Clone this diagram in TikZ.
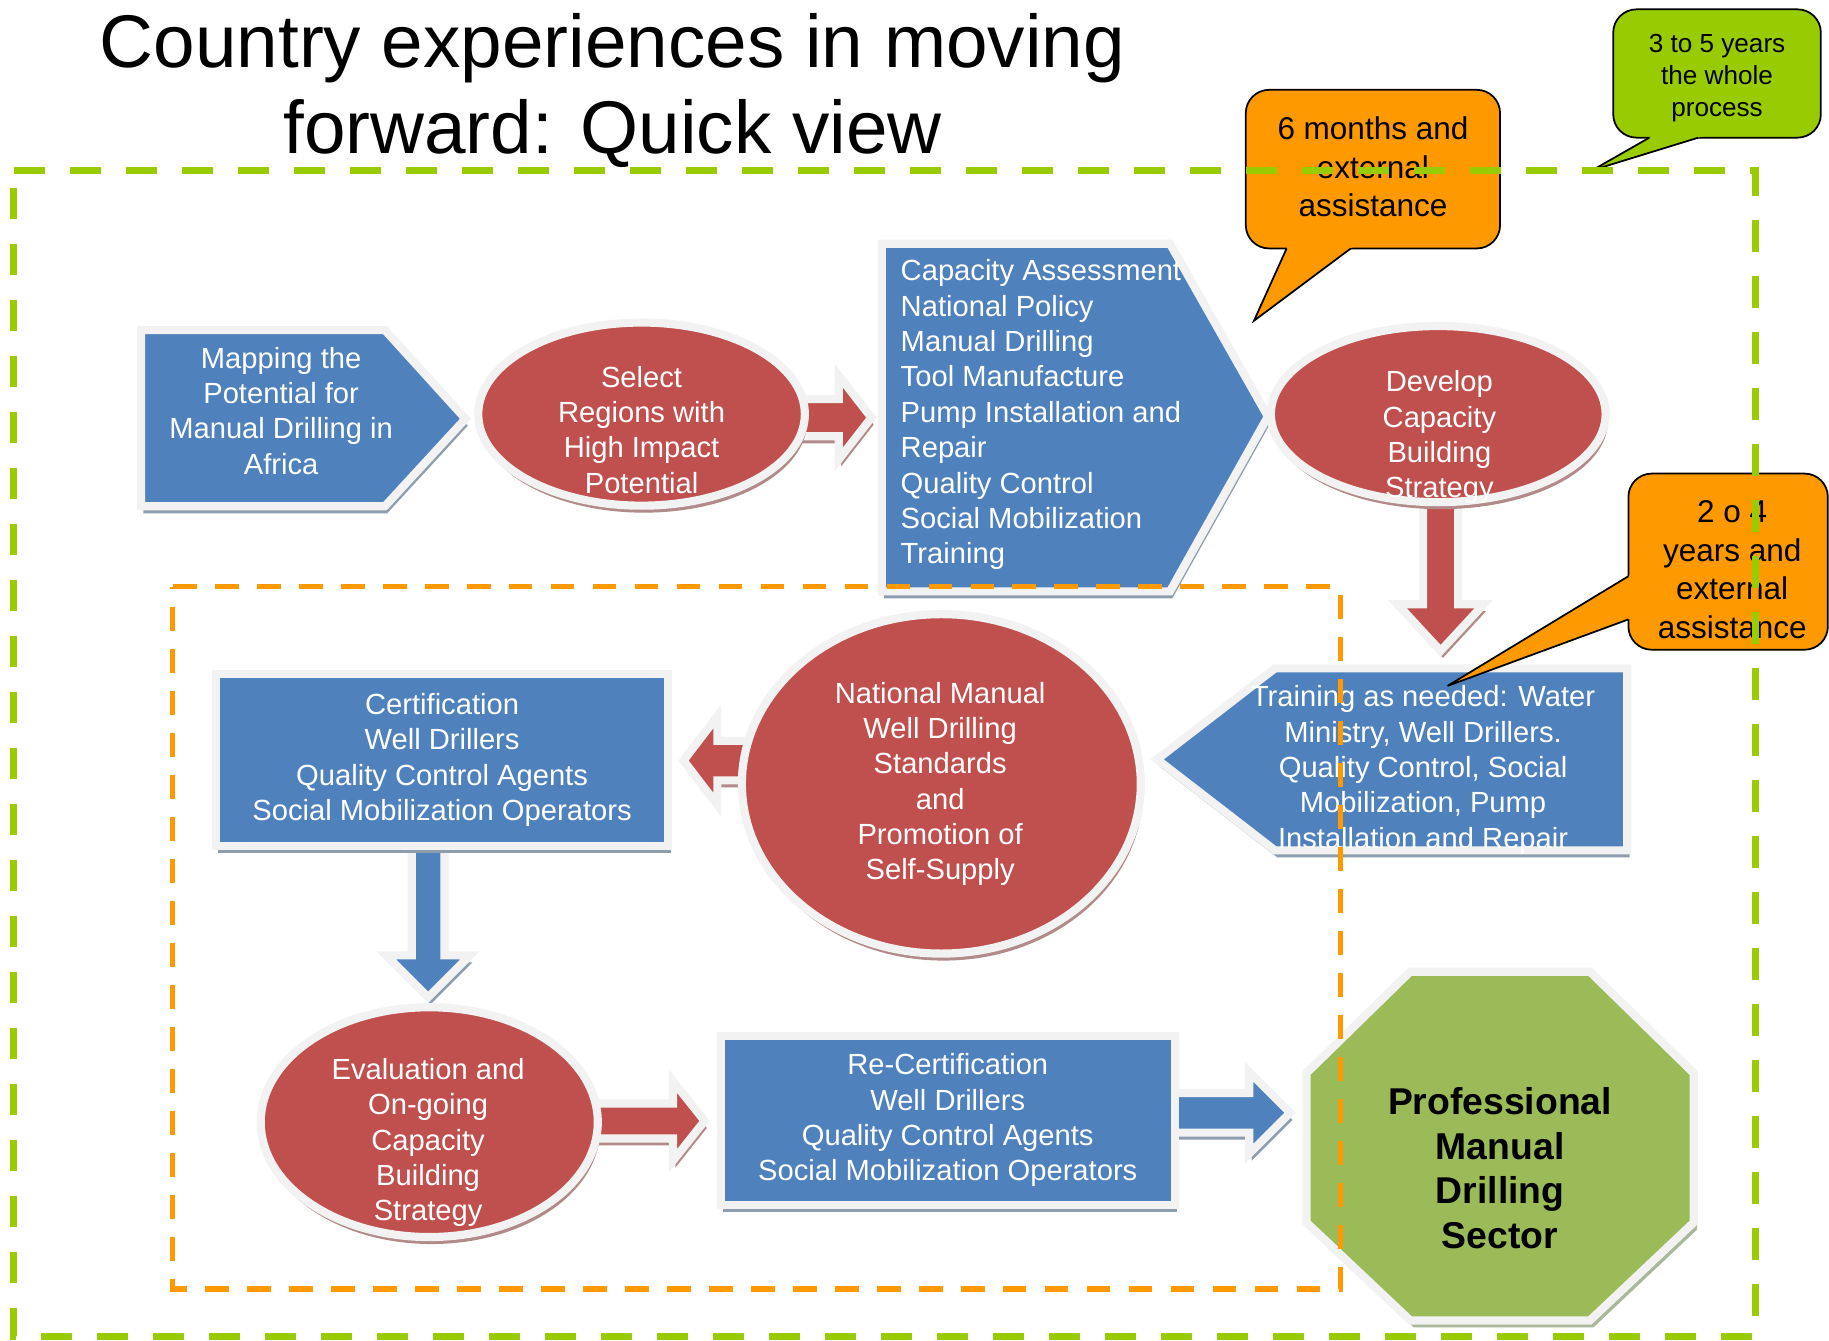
\documentclass[tikz,border=0pt]{standalone}
\usepackage{fontspec}
\setmainfont{Liberation Sans}
\usetikzlibrary{shapes.geometric, shadows}

\definecolor{boxblue}{HTML}{4F81BD}
\definecolor{boxred}{HTML}{C0504D}
\definecolor{octgreen}{HTML}{9BBB59}
\definecolor{rimgray}{HTML}{F2F2F2}
\definecolor{callorange}{HTML}{FF9900}
\definecolor{callgreen}{HTML}{99CC00}
\definecolor{shblue}{HTML}{8E9DAE}
\definecolor{shred}{HTML}{B38A8A}
\definecolor{shgreen}{HTML}{A9B79B}

\tikzset{
    rim/.style={draw=rimgray, line width=7pt, line join=miter},
    bluefill/.style={rim, fill=boxblue, drop shadow={shadow xshift=2pt, shadow yshift=-6pt, fill=shblue, opacity=1}},
    redfill/.style={rim, fill=boxred, drop shadow={shadow xshift=2pt, shadow yshift=-6pt, fill=shred, opacity=1}},
    greenfill/.style={rim, fill=octgreen, drop shadow={shadow xshift=3pt, shadow yshift=-6pt, fill=shgreen, opacity=1}},
    redell/.style={redfill, ellipse, inner sep=0pt},
    bluebox/.style={bluefill, rectangle, inner sep=0pt, text=white, align=center, font=\fontsize{25}{30.3}\selectfont},
    txt/.style={text=white, align=center, inner sep=0pt, font=\fontsize{25}{30.3}\selectfont},
    callbox/.style={draw=black, line width=1.5pt, rounded corners=20pt, inner sep=0pt},
    tailline/.style={draw=black, line width=1.5pt, line join=miter},
    calltxt/.style={align=center, inner sep=0pt, font=\fontsize{27}{33}\selectfont},
    greendash/.style={draw=callgreen, line width=6pt, dash pattern=on 27pt off 21pt},
    orangedash/.style={draw=callorange, line width=4.5pt, dash pattern=on 20.5pt off 15.5pt},
}

\begin{document}
\begin{tikzpicture}[x=1pt, y=-1pt]
    \fill[white] (0,0) rectangle (1568,1149);
    \useasboundingbox (0,0) rectangle (1568,1149);

    % title
    \node[anchor=base, inner sep=0pt, font=\fontsize{64}{75}\selectfont] (title1) at (525,58) {Country experiences in moving};
    \node[anchor=base, inner sep=0pt, font=\fontsize{64}{75}\selectfont] (title2) at (525,132) {forward: Quick view};

    % block arrows
    \draw[redfill] (670,342) -- (719,342) -- (719,322) -- (747,358) -- (719,394) -- (719,374) -- (670,374) -- cycle;
    \draw[redfill] (1220,415) -- (1220,518) -- (1198,518) -- (1235,558) -- (1272,518) -- (1250,518) -- (1250,415) -- cycle;
    \draw[redfill] (660,635) -- (615,635) -- (615,614) -- (586,652) -- (615,690) -- (615,669) -- (660,669) -- cycle;
    \draw[bluefill] (353,715) -- (353,819) -- (331,819) -- (367,855) -- (403,819) -- (381,819) -- (381,715) -- cycle;
    \draw[redfill] (490,946) -- (577,946) -- (577,927) -- (604,961) -- (577,995) -- (577,976) -- (490,976) -- cycle;
    \draw[bluefill] (995,937) -- (1071,937) -- (1071,919) -- (1106,954) -- (1071,989) -- (1071,971) -- (995,971) -- cycle;

    % first row
    \draw[bluefill] (121,283) -- (330,283) -- (399,359) -- (330,434) -- (121,434) -- cycle;
    \node[txt] (map) at (241,352) {Mapping the\\Potential for\\Manual Drilling in\\Africa};

    \node[redell, minimum width=280pt, minimum height=157pt] (sel) at (550,355) {};
    \node[txt] (selT) at (550,368.5) {Select\\Regions with\\High Impact\\Potential};

    \draw[bluefill] (756,209) -- (1003,209) -- (1087,357) -- (1003,507) -- (756,507) -- cycle;
    \node[txt, align=left, anchor=west] (cap) at (772,355.6) {Capacity Assessment\\National Policy\\Manual Drilling\\Tool Manufacture\\Pump Installation and\\Repair\\Quality Control\\Social Mobilization\\Training};

    \node[redell, minimum width=287pt, minimum height=151pt] (dev) at (1233,355) {};
    \node[txt] (devT) at (1234,375) {Develop\\Capacity\\Building\\Strategy};

    % second row
    \draw[bluefill] (1395,573) -- (1093,573) -- (992,651) -- (1093,729) -- (1395,729) -- cycle;
    \node[txt] (train) at (1220,660) {Training as needed: Water\\Ministry, Well Drillers.\\Quality Control, Social\\Mobilization, Pump\\Installation and Repair};

    \node[redell, minimum width=342pt, minimum height=291pt] (nat) at (807,672) {};
    \node[txt] (natT) at (806,672) {National Manual\\Well Drilling\\Standards\\and\\Promotion of\\Self-Supply};

    \node[bluebox, minimum width=388pt, minimum height=147pt] (cert) at (379,651.5) {Certification\\Well Drillers\\Quality Control Agents\\Social Mobilization Operators};

    % third row
    \node[redell, minimum width=289pt, minimum height=197pt] (eval) at (368,962) {};
    \node[txt] (evalT) at (367,979.6) {Evaluation and\\On-going\\Capacity\\Building\\Strategy};

    \node[bluebox, minimum width=389pt, minimum height=145pt] (recert) at (812.5,960.5) {Re-Certification\\Well Drillers\\Quality Control Agents\\Social Mobilization Operators};

    \draw[greenfill] (1209,833) -- (1363,833) -- (1452,920) -- (1452,1048) -- (1363,1132) -- (1209,1132) -- (1120,1048) -- (1120,920) -- cycle;
    \node[align=center, inner sep=0pt, font=\bfseries\fontsize{32}{38.3}\selectfont] (oct) at (1286,1001.5) {Professional\\Manual\\Drilling\\Sector};

    % callouts
    \node[callbox, fill=callorange, minimum width=218pt, minimum height=136pt] (sixbox) at (1177,145) {};
    \fill[callorange] (1105.7,207) -- (1075,275) -- (1166,207) -- cycle;
    \draw[tailline] (1103,213) -- (1075,275) -- (1158,213);
    \node[calltxt] (six) at (1177,143) {6 months and\\external\\assistance};

    \node[callbox, fill=callgreen, minimum width=178pt, minimum height=110pt] (threebox) at (1472,63) {};
    \fill[callgreen] (1424.5,112) -- (1365,146) -- (1475.5,112) -- cycle;
    \draw[tailline] (1414,118) -- (1365,146) -- (1456,118);
    \node[align=center, inner sep=0pt, font=\fontsize{22.4}{27.5}\selectfont] (three) at (1472,66.8) {3 to 5 years\\the whole\\process};

    \node[callbox, fill=callorange, minimum width=171pt, minimum height=151pt] (twobox) at (1481.5,481.5) {};
    \fill[callorange] (1402,490.4) -- (1241,588) -- (1402,528.8) -- cycle;
    \draw[tailline] (1396,494) -- (1241,588) -- (1396,531);
    \node[calltxt] (two) at (1485,488.5) {2 o 4\\years and\\external\\assistance};

    % dashed frames
    \draw[greendash] (12,146) -- (1505,146) -- (1505,1146) -- (12,1146) -- cycle;
    \draw[orangedash] (148,503) -- (1149,503) -- (1149,1105) -- (148,1105) -- cycle;
\end{tikzpicture}
\end{document}
